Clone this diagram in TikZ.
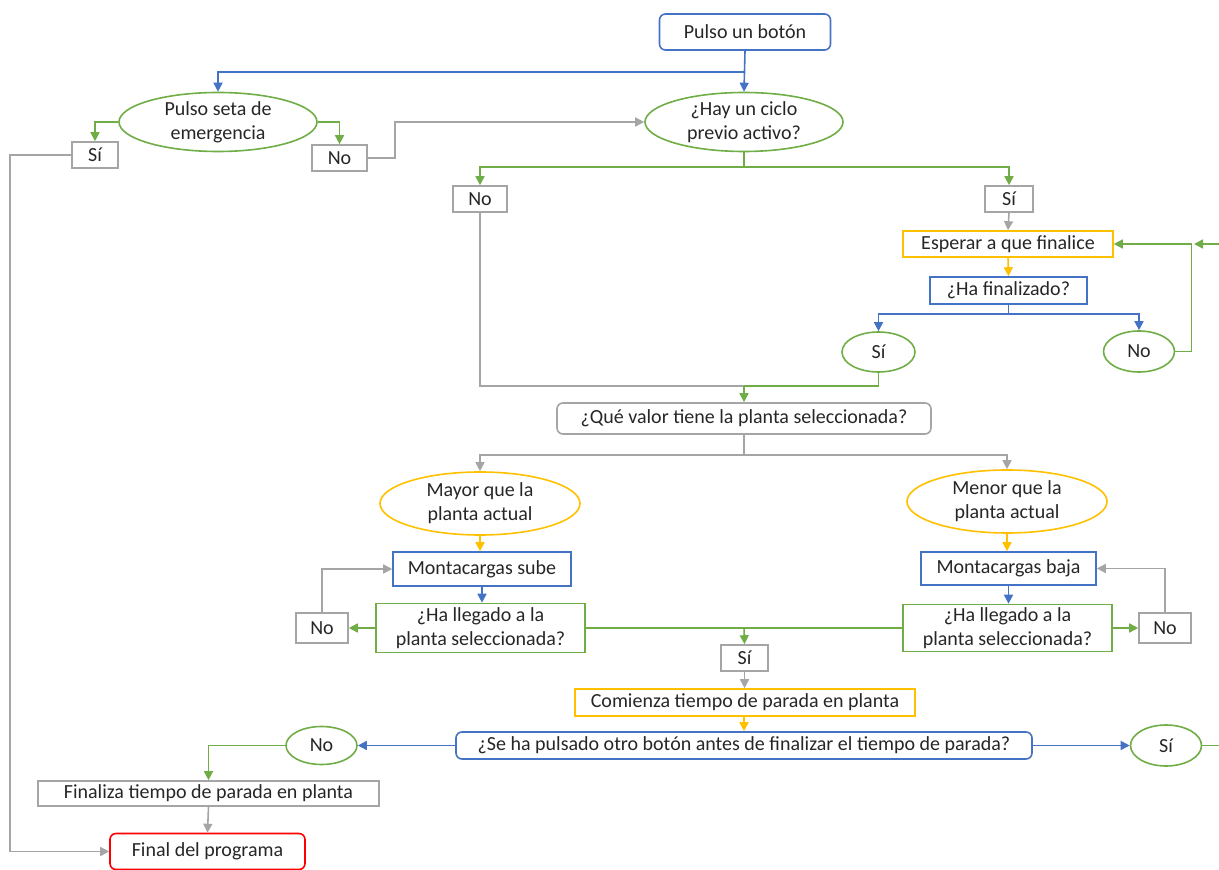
\documentclass[tikz,border=0pt]{standalone}
\usepackage{fontspec}
\setmainfont{Carlito}
\usepackage{xcolor}
\definecolor{azul}{RGB}{68, 114, 196}
\definecolor{verde}{RGB}{112, 173, 71}
\definecolor{oro}{RGB}{255, 192, 0}
\definecolor{gris}{RGB}{165, 165, 165}
\definecolor{rojo}{RGB}{255, 0, 0}
\definecolor{texto}{RGB}{38, 38, 38}
\usepackage{tikz}
\usetikzlibrary{arrows.meta,shapes.geometric}

\tikzset{
  base/.style={draw, line width=0.8pt, inner sep=0pt, align=center, text=texto,
    font=\fontsize{10}{12}\selectfont},
  caja/.style={base, rectangle},
  redonda/.style={base, rectangle, rounded corners=3pt},
  elipse/.style={base, ellipse},
  flecha/.style={line width=0.8pt, -{Triangle[length=4.5pt,width=4.5pt]}},
  linea/.style={line width=0.8pt}
}

\begin{document}
\begin{tikzpicture}[x=0.5pt, y=-0.5pt]
    \useasboundingbox (0,0) rectangle (1219,870);

    % Inicio y emergencia
    \node[redonda, draw=azul, minimum width=85.5pt, minimum height=18pt] (boton) at (745,32) {Pulso un botón};
    \node[elipse, draw=verde, minimum width=99pt, minimum height=29.5pt] (seta) at (218,122) {Pulso seta de\\emergencia};
    \node[elipse, draw=verde, minimum width=99pt, minimum height=29.5pt] (ciclo) at (744,122) {¿Hay un ciclo\\previo activo?};
    \node[caja, draw=gris, minimum width=23pt, minimum height=13pt] (si1) at (95,155) {Sí};
    \node[caja, draw=gris, minimum width=27.5pt, minimum height=13pt] (no1) at (339.5,158) {No};

    \coordinate (j1) at (745,72);
    \draw[flecha, azul] (boton.south) -- (ciclo.north);
    \draw[flecha, azul] (j1) -| (seta.north);
    \draw[flecha, verde] (seta.west) -| (si1.north);
    \draw[flecha, verde] (seta.east) -| (no1.north);
    \draw[flecha, gris] (no1.east) -- ++(27,0) |- (ciclo.west);

    % Ciclo previo
    \node[caja, draw=gris, minimum width=27pt, minimum height=13pt] (no2) at (480,199) {No};
    \node[caja, draw=gris, minimum width=24pt, minimum height=13pt] (si2) at (1009,199) {Sí};
    \node[caja, draw=oro, minimum width=105pt, minimum height=13pt] (esperar) at (1008,244) {Esperar a que finalice};
    \node[caja, draw=azul, minimum width=78.5pt, minimum height=13.5pt] (finalizado) at (1008.5,290.5) {¿Ha finalizado?};
    \node[elipse, draw=verde, minimum width=36.5pt, minimum height=20pt] (si3) at (878.5,352) {Sí};
    \node[elipse, draw=verde, minimum width=35.5pt, minimum height=20.5pt] (no3) at (1139,351.5) {No};

    \coordinate (j2) at (744,167);
    \coordinate (j3) at (1008.5,314);
    \coordinate (lazo) at (1219,244);
    \draw[linea, verde] (ciclo.south) -- (j2);
    \draw[flecha, verde] (j2) -| (no2.north);
    \draw[flecha, verde] (j2) -| (si2.north);
    \draw[flecha, gris] (si2.south) -- (esperar.north);
    \draw[flecha, oro] (esperar.south) -- (finalizado.north);
    \draw[linea, azul] (finalizado.south) -- (j3);
    \draw[flecha, azul] (j3) -| (si3.north);
    \draw[flecha, azul] (j3) -| (no3.north);
    \draw[flecha, verde] (no3.east) -- ++(16,0) |- (esperar.east);
    \draw[flecha, verde] (lazo) -- ++(-25,0);

    % Planta seleccionada
    \node[redonda, draw=gris, minimum width=187pt, minimum height=15.5pt] (valor) at (744,418.5) {¿Qué valor tiene la planta seleccionada?};
    \node[elipse, draw=oro, minimum width=100pt, minimum height=31.5pt] (mayor) at (480,503.5) {Mayor que la\\planta actual};
    \node[elipse, draw=oro, minimum width=100pt, minimum height=31.5pt] (menor) at (1007,501.5) {Menor que la\\planta actual};
    \node[caja, draw=azul, minimum width=89pt, minimum height=17pt] (sube) at (482,569) {Montacargas sube};
    \node[caja, draw=azul, minimum width=87.5pt, minimum height=16.5pt] (baja) at (1008.5,568.5) {Montacargas baja};
    \node[caja, draw=verde, minimum width=104.5pt, minimum height=24.5pt] (llegadoL) at (480.5,628) {¿Ha llegado a la\\planta seleccionada?};
    \node[caja, draw=verde, minimum width=104.5pt, minimum height=23.5pt] (llegadoR) at (1007.5,628) {¿Ha llegado a la\\planta seleccionada?};
    \node[caja, draw=gris, minimum width=26pt, minimum height=15pt] (noL) at (322,628) {No};
    \node[caja, draw=gris, minimum width=26pt, minimum height=15pt] (noR) at (1165,628) {No};
    \node[caja, draw=gris, minimum width=23.5pt, minimum height=13pt] (si4) at (744.5,658) {Sí};

    \coordinate (j4) at (744,386);
    \coordinate (j5) at (744,455);
    \coordinate (j6) at (744,628);
    \draw[linea, gris] (no2.south) |- (j4);
    \draw[linea, verde] (si3.south) |- (j4);
    \draw[flecha, verde] (j4) -- (valor.north);
    \draw[linea, gris] (valor.south) -- (j5);
    \draw[flecha, gris] (j5) -| (mayor.north);
    \draw[flecha, gris] (j5) -| (menor.north);
    \draw[flecha, oro] (mayor.south) -- (sube.north -| mayor.south);
    \draw[flecha, oro] (menor.south) -- (baja.north -| menor.south);
    \draw[flecha, azul] (sube.south) -- (llegadoL.north -| sube.south);
    \draw[flecha, azul] (baja.south) -- (llegadoR.north -| baja.south);
    \draw[flecha, verde] (llegadoL.west) -- (noL.east);
    \draw[flecha, verde] (llegadoR.east) -- (noR.west);
    \draw[flecha, gris] (noL.north) |- (sube.west);
    \draw[flecha, gris] (noR.north) |- (baja.east);
    \draw[linea, verde] (llegadoL.east) -- (llegadoR.west);
    \draw[flecha, verde] (j6) -- (si4.north);

    % Tiempo de parada
    \node[caja, draw=oro, minimum width=170pt, minimum height=13.5pt] (comienza) at (745,702.5) {Comienza tiempo de parada en planta};
    \node[redonda, draw=azul, minimum width=288pt, minimum height=13.5pt] (pulsado) at (744,745.5) {¿Se ha pulsado otro botón antes de finalizar el tiempo de parada?};
    \node[elipse, draw=verde, minimum width=35.5pt, minimum height=19pt] (no5) at (321.5,745.5) {No};
    \node[elipse, draw=verde, minimum width=35.5pt, minimum height=20.5pt] (si5) at (1166,745.5) {Sí};
    \node[caja, draw=gris, minimum width=170.5pt, minimum height=12.5pt] (finaliza) at (208.5,793.5) {Finaliza tiempo de parada en planta};
    \node[redonda, draw=rojo, minimum width=97.5pt, minimum height=18pt] (final) at (207.5,851.5) {Final del programa};

    \coordinate (lazo2) at (1219,745.5);
    \draw[flecha, gris] (si4.south) -- (comienza.north -| si4.south);
    \draw[flecha, oro] (comienza.south -| pulsado.north) -- (pulsado.north);
    \draw[flecha, azul] (pulsado.west) -- (no5.east);
    \draw[flecha, azul] (pulsado.east) -- (si5.west);
    \draw[flecha, verde] (no5.west) -| (finaliza.north);
    \draw[flecha, gris] (finaliza.south) -- (final.north);
    \draw[linea, verde] (si5.east) -- (lazo2);
    \draw[flecha, gris] (si1.west) -- ++(-61,0) |- (final.west);
\end{tikzpicture}
\end{document}
